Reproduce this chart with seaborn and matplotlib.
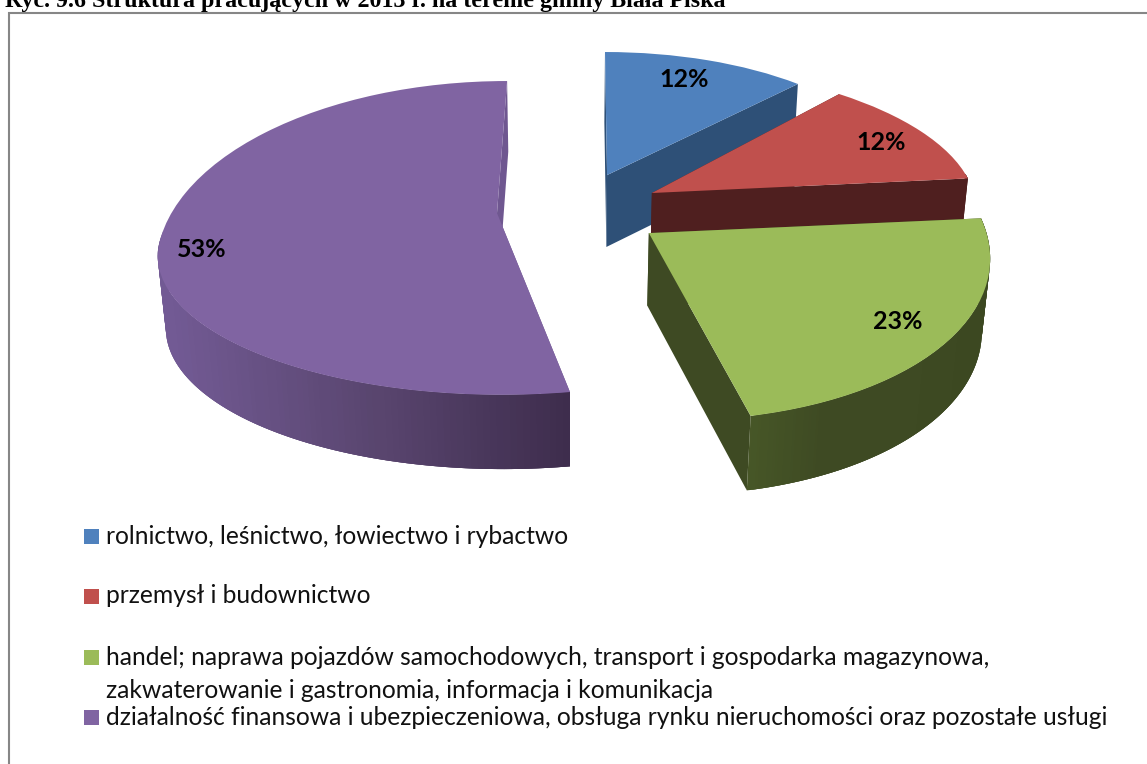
import numpy as np
import matplotlib
matplotlib.use("Agg")
import matplotlib.pyplot as plt
import matplotlib.transforms as mtransforms
from matplotlib.patches import Polygon, Rectangle
import seaborn as sns

# ---- data
title_text = "Ryc. 9.6 Struktura pracujących w 2013 r. na terenie gminy Biała Piska"
categories = [
    "rolnictwo, leśnictwo, łowiectwo i rybactwo",
    "przemysł i budownictwo",
    "handel; naprawa pojazdów samochodowych, transport i gospodarka magazynowa,\nzakwaterowanie i gastronomia, informacja i komunikacja",
    "działalność finansowa i ubezpieczeniowa, obsługa rynku nieruchomości oraz pozostałe usługi",
]
shares = [12, 12, 23, 53]

# ---- styles
top_colors = ["#4F81BD", "#C0504D", "#9BBB59", "#8064A2"]
side_ramps = [["#2E5077", "#2E5077"], ["#4F1F1F", "#4F1F1F"],
              ["#3C4821", "#3E4A23", "#3E4A23", "#475727"], ["#3E2D4D", "#5A4670", "#725A94"]]
cut_colors = ["#2E5077", "#4F1F1F", "#3E4A23", "#6F5790"]
# cx, cy, radius x, back radius y, front radius y, back shear, front shear, tilt, apex dx, apex dy
slice_geom = [(0.110, 0.343, 0.87, 0.865, 0.865, 0.00, 0.00, 0.0, 0.0, 0.0),
              (0.241, 0.225, 0.945, 0.89, 0.89, -0.08, -0.08, 0.04, 0.0, 0.0),
              (0.228, -0.032, 0.975, 1.09, 1.09, -0.074, -0.074, 0.025, 0.0, 0.0),
              (-0.200, -0.125, 0.983, 1.12, 0.858, 0.005, -0.016, 0.0, -0.013, 0.22)]
label_nudge = [(-0.02, 0.0), (0.024, -0.005), (0.016, -0.007), (-0.054, 0.034)]
draw_order = [3, 0, 1, 2]
legend_square_top = [529, 589, 650, 710]
legend_baseline = [544, 603, 698, 725]
X0, Y0, RX, RY, K, HEIGHT, M = 570.0, 228.0, 345.0, 158.0, 0.07, 74.0, 0.02

sns.set_theme(style="white")
plt.rcParams["font.family"] = ["Lato", "DejaVu Sans"]


class SliceProjection(mtransforms.Transform):
    input_dims = output_dims = 2
    is_separable = False
    has_inverse = False

    def __init__(self, geom, z=0.0):
        super().__init__()
        self.geom, self.z = geom, z

    def transform_non_affine(self, values):
        values = np.asarray(values, float)
        cx, cy, a, b_back, b_front, s_back, s_front, tilt, ex, ey = self.geom
        ux, uy = values[:, 0], values[:, 1]
        inner = np.clip(1 - np.hypot(ux, uy), 0, 1)
        b = np.where(uy > 0, b_back, b_front)
        s = np.where(uy > 0, s_back, s_front)
        x = cx + a * ux + s * uy + ex * inner
        y = cy + b * uy + tilt * ux + ey * inner
        w = 1 + K * y + M * self.z
        return np.column_stack([X0 + RX * x / w, Y0 - (RY * y - HEIGHT * self.z) / w])


fig = plt.figure(figsize=(11.47, 7.64), dpi=100, facecolor="white")
ax = fig.add_axes([0, 0, 1, 1])
wedges, _, autotexts = ax.pie(shares, startangle=90, counterclock=False, autopct="%.0f%%",
                              pctdistance=0.82, colors=top_colors, wedgeprops={"linewidth": 0})
ax.set_aspect("auto")
ax.set_xlim(0, 1147)
ax.set_ylim(764, 0)
ax.axis("off")

zo = 2
for i in draw_order:
    wedge = wedges[i]
    top = SliceProjection(slice_geom[i], 0.0)
    bottom = SliceProjection(slice_geom[i], 1.0)
    t = np.radians(np.linspace(wedge.theta1, wedge.theta2, 181))
    arc = np.column_stack([np.cos(t), np.sin(t)])
    # straight cut faces
    for end in (0, -1):
        pts = np.array([[0, 0], arc[end]])
        face = np.vstack([top.transform(pts), bottom.transform(pts)[::-1]])
        ax.add_patch(Polygon(face, closed=True, facecolor=cut_colors[i], edgecolor="none", zorder=zo))
    zo += 1
    # outer wall: only the part that faces the viewer, shaded along its width
    front = arc[arc[:, 1] < 0.1]
    if len(front) > 1:
        atop, abot = top.transform(front), bottom.transform(front)
        ramp = sns.blend_palette(side_ramps[i], 60)
        xmin, xmax = abot[:, 0].min(), abot[:, 0].max()
        for j in range(len(front) - 1):
            k = min(j + 3, len(front) - 1)
            quad = np.vstack([atop[j:k + 1], abot[j:k + 1][::-1]])
            frac = (xmax - atop[j:j + 2, 0].mean()) / max(xmax - xmin, 1)
            c = ramp[int(np.clip(frac, 0, 0.999) * len(ramp))]
            ax.add_patch(Polygon(quad, closed=True, facecolor=c, edgecolor="none", zorder=zo))
    zo += 1
    wedge.set_transform(top + ax.transData)
    wedge.set_zorder(zo)
    zo += 1
    px, py = autotexts[i].get_position()
    autotexts[i].set_position((px + label_nudge[i][0], py + label_nudge[i][1]))
    autotexts[i].set_transform(top + ax.transData)
    autotexts[i].set(fontsize=18, fontweight="bold", color="black", zorder=40,
                     family=["Lato", "DejaVu Sans"])

# frame around the chart
ax.plot([9, 9, 1147], [764, 13, 13], color="#868686", lw=1.5, solid_joinstyle="miter", zorder=1, clip_on=False)

# legend
for label, colour, sq, base in zip(categories, top_colors, legend_square_top, legend_baseline):
    ax.add_patch(Rectangle((84, sq), 15, 15, facecolor=colour, edgecolor="none", zorder=30))
    ax.text(106, base, label, fontsize=17.72, color="#111111", va="baseline", ha="left",
            linespacing=1.52, zorder=30)

fig.text(5 / 1147, 1 - 7 / 764, title_text, fontsize=17.3, fontweight="bold", color="black",
         family=["Liberation Serif"], ha="left", va="baseline")

fig.savefig("out.png", dpi=100, facecolor="white")
